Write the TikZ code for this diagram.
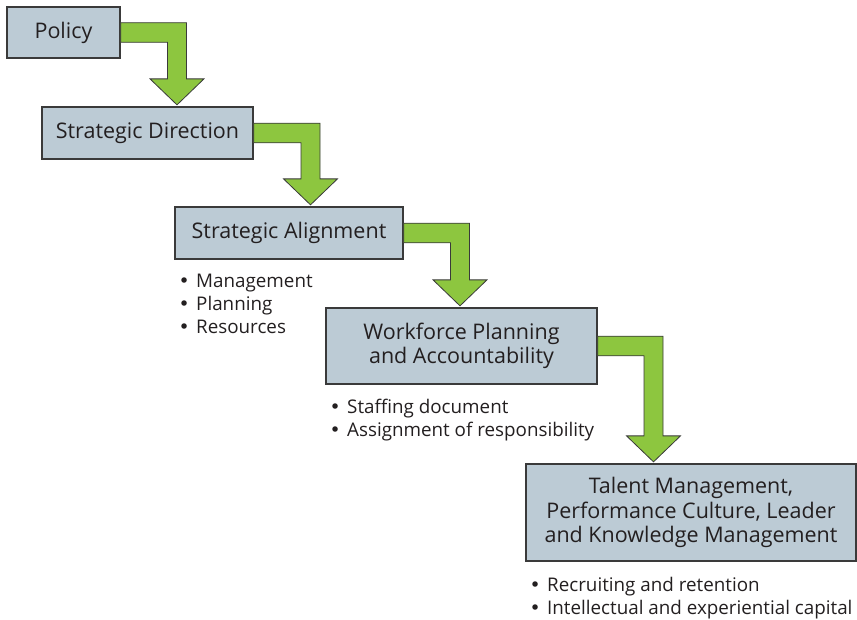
\documentclass[tikz,border=0pt]{standalone}
\usepackage{fontspec}
\setmainfont{Open Sans}
\newfontfamily\bulletfont{DejaVu Sans}
\usetikzlibrary{calc}
\definecolor{boxfill}{HTML}{BCCBD5}
\definecolor{boxline}{HTML}{3A3A3A}
\definecolor{arrgreen}{HTML}{8DC63F}
\definecolor{txt}{HTML}{231F20}
\newcommand\itm{\makebox[17.5pt][l]{\bulletfont •}}
\tikzset{
  stagebox/.style={draw=boxline, line width=1.3pt, fill=boxfill, inner sep=0pt,
    align=center, text=txt, font=\fontsize{21.5}{24.5}\selectfont},
  bulletlist/.style={inner sep=0pt, align=left, anchor=north west, text=txt,
    font=\fontsize{18.8}{23.4}\selectfont},
  garr/.style={draw=boxline, line width=0.8pt, fill=arrgreen, line join=miter}
}
% #1 source box, #2 target box, #3 tip x
\newcommand\greenarrow[3]{%
  \draw[garr] let \p1=(#1.east), \p2=(#2.north) in
    (\x1,\y1+9.8) -- (#3+9.5,\y1+9.8) -- (#3+9.5,\y2+27.5) -- (#3+27,\y2+27.5)
    -- (#3,\y2+1.5) -- (#3-27,\y2+27.5) -- (#3-9.5,\y2+27.5) -- (#3-9.5,\y1-9.8)
    -- (\x1,\y1-9.8) -- cycle;}
\begin{document}
\begin{tikzpicture}[x=1pt,y=1pt]
\useasboundingbox (0,0) rectangle (857,-619);
\node[stagebox, minimum width=113pt, minimum height=51pt] (policy) at (63.5,-32.5) {Policy};
\node[stagebox, minimum width=211pt, minimum height=52pt] (direction) at (147.5,-133) {Strategic Direction};
\node[stagebox, minimum width=228pt, minimum height=52pt] (alignment) at (289,-233) {Strategic Alignment};
\node[stagebox, minimum width=271pt, minimum height=76pt] (workforce) at (461.5,-346) {Workforce Planning\\and Accountability};
\node[stagebox, minimum width=330pt, minimum height=97pt] (talent) at (691,-512.5) {Talent Management,\\Performance Culture, Leader\\and Knowledge Management};
\greenarrow{policy}{direction}{177}
\greenarrow{direction}{alignment}{310.5}
\greenarrow{alignment}{workforce}{460}
\greenarrow{workforce}{talent}{653.5}
\node[bulletlist] (alignlist) at (178.5,-273.5) {\itm Management\\\itm Planning\\\itm Resources};
\node[bulletlist] (worklist) at (329.5,-399) {\itm Staffing document\\\itm Assignment of responsibility};
\node[bulletlist] (talentlist) at (529.5,-577) {\itm Recruiting and retention\\\itm Intellectual and experiential capital};
\end{tikzpicture}
\end{document}
